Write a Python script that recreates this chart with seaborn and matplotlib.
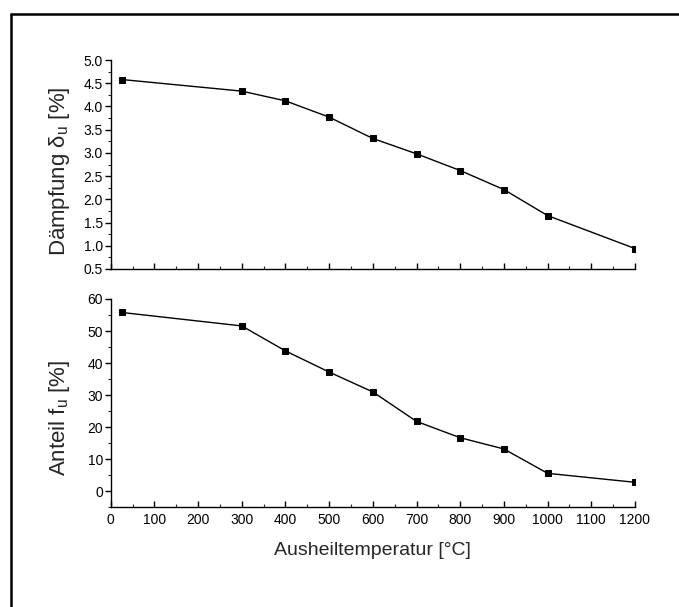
import matplotlib
matplotlib.use("Agg")
import matplotlib.pyplot as plt
import seaborn as sns
import pandas as pd
from matplotlib.ticker import MultipleLocator, FormatStrFormatter
from matplotlib.lines import Line2D

# data
temperature = [25, 300, 400, 500, 600, 700, 800, 900, 1000, 1200]
daempfung = [4.58, 4.33, 4.12, 3.77, 3.31, 2.98, 2.62, 2.21, 1.65, 0.94]
anteil = [55.8, 51.6, 43.8, 37.2, 31.0, 21.8, 16.7, 13.2, 5.6, 2.8]

x_label = "Ausheiltemperatur [°C]"
y_label_top = "Dämpfung δ$_\\mathregular{u}$ [%]"
y_label_bottom = "Anteil f$_\\mathregular{u}$ [%]"

sns.set_style("ticks")
plt.rcParams['font.family'] = ['Liberation Sans', 'DejaVu Sans']
plt.rcParams['mathtext.fontset'] = 'custom'
plt.rcParams['mathtext.rm'] = 'Liberation Sans'

df = pd.DataFrame({"T": temperature, "d": daempfung, "f": anteil})

W, H = 679, 607
fig = plt.figure(figsize=(W / 100, H / 100), dpi=100)

def rect(l, t, r, b):
    return [l / W, 1 - b / H, (r - l) / W, (b - t) / H]

ax1 = fig.add_axes(rect(110.7, 60, 635, 269))
ax2 = fig.add_axes(rect(110.7, 299, 635, 507.3))

for ax, col, ylim, major, minor, ylab, ly in [
    (ax1, "d", (0.5, 5.0), 0.5, 0.25, y_label_top, 0.47),
    (ax2, "f", (-5, 60), 10, 5, y_label_bottom, 0.43),
]:
    sns.lineplot(data=df, x="T", y=col, ax=ax, color="black", linewidth=1.0,
                 marker="s", markersize=5, markeredgecolor="black",
                 markerfacecolor="black")
    ax.set_xlim(0, 1200)
    ax.set_ylim(*ylim)
    ax.xaxis.set_major_locator(MultipleLocator(100))
    ax.xaxis.set_minor_locator(MultipleLocator(50))
    ax.yaxis.set_major_locator(MultipleLocator(major))
    ax.yaxis.set_minor_locator(MultipleLocator(minor))
    for s in ["top", "right"]:
        ax.spines[s].set_visible(False)
    for s in ["left", "bottom"]:
        ax.spines[s].set_linewidth(1.0)
        ax.spines[s].set_color("black")
    ax.tick_params(axis="x", which="major", direction="in", length=4, width=1,
                   labelsize=10, pad=4, colors="black")
    ax.tick_params(axis="x", which="minor", direction="in", length=2.5, width=0.8)
    ax.tick_params(axis="y", which="major", direction="out", length=4, width=1,
                   labelsize=10, pad=1.5, colors="black")
    ax.tick_params(axis="y", which="minor", direction="out", length=2.5, width=0.8)
    ax.set_ylabel(ylab, fontsize=16)
    ax.yaxis.set_label_coords(-0.074, ly)
    ax.set_facecolor("white")

ax1.yaxis.set_major_formatter(FormatStrFormatter("%.1f"))
ax1.set_xlabel("")
ax1.tick_params(axis="x", labelbottom=False)
ax2.set_xlabel(x_label, fontsize=14)
ax2.xaxis.set_label_coords(0.5, -0.165)

# partial outer frame (left and top edges)
fig.add_artist(Line2D([11 / W, 11 / W], [0, 1 - 14 / H], transform=fig.transFigure,
                      color="black", linewidth=1.8))
fig.add_artist(Line2D([11 / W, 1], [1 - 14 / H, 1 - 14 / H], transform=fig.transFigure,
                      color="black", linewidth=1.8))

fig.savefig("out.png", dpi=100, facecolor="white")
